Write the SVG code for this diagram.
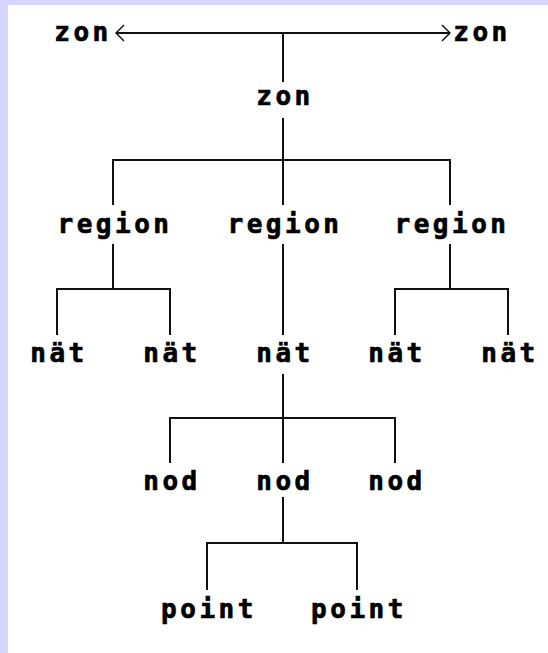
<svg xmlns="http://www.w3.org/2000/svg" width="548" height="653" viewBox="0 0 548 653">
<style>
.t{font-family:"DejaVu Sans Mono","Liberation Mono",monospace;font-weight:bold;font-size:26px;letter-spacing:3.5px;text-anchor:middle;fill:#000;stroke:#000;stroke-width:0.7}
.c{stroke:#111;stroke-width:2;fill:none}
</style>
<defs>
<marker id="ah" viewBox="0 0 10 18" refX="9" refY="9" markerWidth="10" markerHeight="18" markerUnits="userSpaceOnUse" orient="auto-start-reverse">
<path d="M1,1 L9,9 L1,17" stroke="#111" stroke-width="1.5" fill="none"/>
</marker>
</defs>
<rect width="548" height="653" fill="#ffffff"/>
<rect x="0" y="0" width="548" height="5" fill="#d5d5fd"/>
<rect x="0" y="0" width="8" height="653" fill="#d5d5fd"/>
<g id="connectors">
<path class="c" d="M116,33 H450" marker-start="url(#ah)" marker-end="url(#ah)"/>
<path class="c" d="M283,33 V82"/>
<path class="c" d="M283,118 V160 M113,205 V160 H450 V205 M283,160 V205"/>
<path class="c" d="M113,244 V289 M57,335 V289 H170 V335"/>
<path class="c" d="M283,244 V335"/>
<path class="c" d="M450,244 V289 M395,335 V289 H508 V335"/>
<path class="c" d="M283,374 V463 M170,463 V418 H395 V463"/>
<path class="c" d="M283,497 V543 M207,590 V543 H357 V590"/>
</g>
<g id="zon-left"><text class="t" x="83" y="41">zon</text></g>
<g id="zon-right"><text class="t" x="482" y="41">zon</text></g>
<g id="zon"><text class="t" x="285" y="105">zon</text></g>
<g id="region1"><text class="t" x="115" y="233">region</text></g>
<g id="region2"><text class="t" x="285" y="233">region</text></g>
<g id="region3"><text class="t" x="452" y="233">region</text></g>
<g id="nat1"><text class="t" x="59" y="362">nät</text></g>
<g id="nat2"><text class="t" x="172" y="362">nät</text></g>
<g id="nat3"><text class="t" x="285" y="362">nät</text></g>
<g id="nat4"><text class="t" x="397" y="362">nät</text></g>
<g id="nat5"><text class="t" x="510" y="362">nät</text></g>
<g id="nod1"><text class="t" x="172" y="490">nod</text></g>
<g id="nod2"><text class="t" x="285" y="490">nod</text></g>
<g id="nod3"><text class="t" x="397" y="490">nod</text></g>
<g id="point1"><text class="t" x="209" y="618">point</text></g>
<g id="point2"><text class="t" x="359" y="618">point</text></g>
</svg>
